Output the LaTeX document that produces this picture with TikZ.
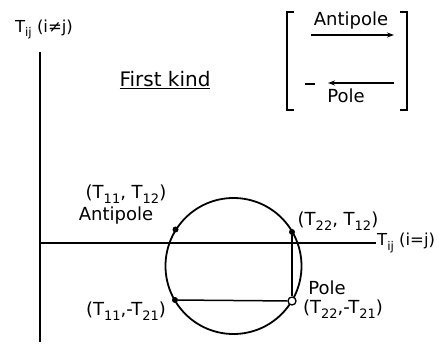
\documentclass[tikz,border=0pt]{standalone}
\usepackage{fontspec}
\setmainfont{DejaVu Sans}
\usetikzlibrary{arrows.meta}
\newcommand{\mysub}[1]{\raisebox{-0.45ex}{\fontsize{13}{13}\selectfont #1}}
\newcommand{\lblfont}{\fontsize{18}{21}\selectfont}
\newcommand{\axfont}{\fontsize{16.5}{19}\selectfont}
\newcommand{\smallsub}[1]{\raisebox{-0.45ex}{\fontsize{12}{12}\selectfont #1}}
\begin{document}
\begin{tikzpicture}[x=1pt,y=-1pt,
  lbl/.style={font=\lblfont, inner sep=1pt},
  axlbl/.style={font=\axfont, inner sep=1pt},
  axis/.style={line width=1.5pt},
  curve/.style={line width=1.8pt},
  fdot/.style={circle, fill=black, inner sep=0pt, minimum size=6pt},
  odot/.style={circle, draw=black, fill=white, line width=1.3pt, inner sep=0pt, minimum size=8pt},
  legarrow/.style={line width=1.3pt, -{Stealth[length=7pt,width=5pt]}}]
\useasboundingbox (0,0) rectangle (444,347);
% axes
\coordinate (vtop) at (40,52);
\coordinate (vbot) at (40,342);
\coordinate (hleft) at (40,243);
\coordinate (hright) at (376,243);
\draw[axis] (vtop) -- (vbot);
\draw[axis] (hleft) -- (hright);
\node[axlbl, anchor=south] (vlab) at (44,40) {T\smallsub{ij} (i≠j)};
\node[axlbl, anchor=west] (hlab) at (hright) {T\smallsub{ij} (i=j)};
% title
\node[lbl, font=\fontsize{20}{24}\selectfont] (fk) at (165,80) {\underline{First kind}};
% legend
\draw[axis] (294,12) -- (287,12) -- (287,110) -- (294,110);
\draw[axis] (400,12) -- (407,12) -- (407,110) -- (400,110);
\node[lbl] (leg1) at (351,21) {Antipole};
\node[lbl] (leg2) at (346,96) {Pole};
\coordinate (a1s) at (311,35);
\coordinate (a1e) at (394,35);
\draw[legarrow] (a1s) -- (a1e);
\coordinate (a2s) at (394,83);
\coordinate (a2e) at (328,83);
\draw[legarrow] (a2s) -- (a2e);
\coordinate (m1) at (305,84);
\coordinate (m2) at (315,84);
\draw[line width=2.4pt] (m1) -- (m2);
% circle
\coordinate (cen) at (233.5,266);
\draw[curve] (cen) circle[radius=68pt];
\node[fdot] (A) at (175.5,229.5) {};
\node[fdot] (B) at (292,232) {};
\node[fdot] (C) at (175,300) {};
\node[odot] (P) at (292,301) {};
\draw[axis] (B) -- (P);
\draw[axis] (C) -- (P);
% labels
\node[lbl] (lA1) at (126,194) {(T\mysub{11}, T\mysub{12})};
\node[lbl] (lA2) at (116,216) {Antipole};
\node[lbl] (lB) at (338,221) {(T\mysub{22}, T\mysub{12})};
\node[lbl] (lP1) at (327,288) {Pole};
\node[lbl] (lP2) at (343,309) {(T\mysub{22},-T\mysub{21})};
\node[lbl] (lC) at (126,311) {(T\mysub{11},-T\mysub{21})};
\end{tikzpicture}
\end{document}
